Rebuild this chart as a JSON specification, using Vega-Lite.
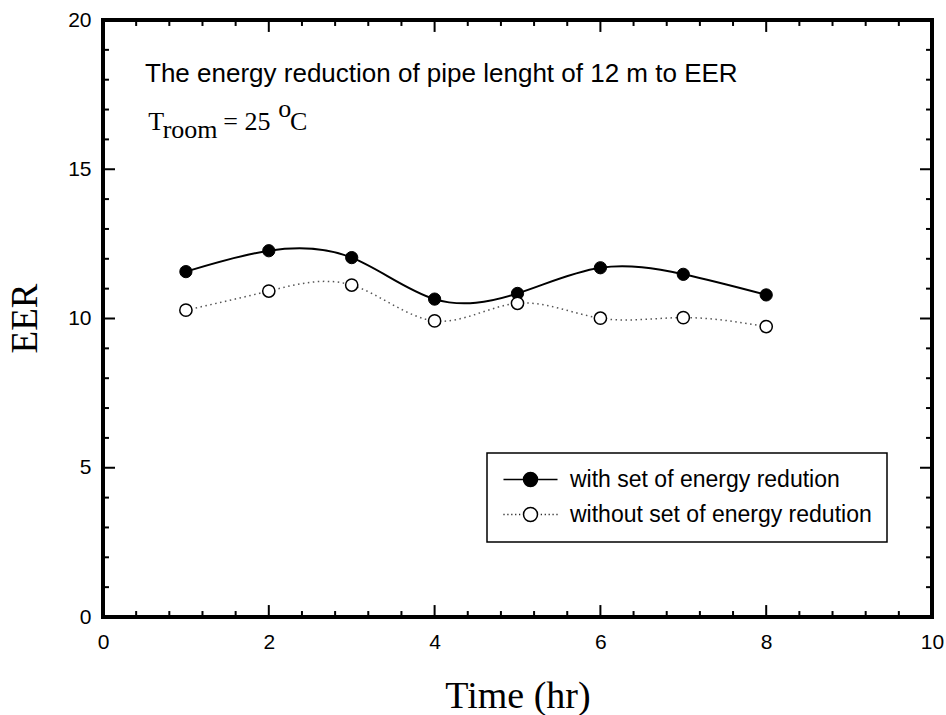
{
  "$schema": "https://vega.github.io/schema/vega-lite/v6.json",
  "width": 829,
  "height": 597,
  "autosize": {"type": "none"},
  "padding": {"left": 103, "top": 20, "right": 14, "bottom": 98},
  "background": "white",
  "config": {
    "view": {"stroke": "black", "strokeWidth": 4},
    "axis": {
      "grid": false,
      "labelColor": "black",
      "titleColor": "black",
      "labelFont": "Liberation Sans",
      "labelFontSize": 21
    },
    "legend": {"strokeWidth": 1.5}
  },
  "datasets": {
    "eer": [
      {"time": 1, "eer": 11.57, "series": "with set of energy redution"},
      {"time": 2, "eer": 12.27, "series": "with set of energy redution"},
      {"time": 3, "eer": 12.04, "series": "with set of energy redution"},
      {"time": 4, "eer": 10.65, "series": "with set of energy redution"},
      {"time": 5, "eer": 10.84, "series": "with set of energy redution"},
      {"time": 6, "eer": 11.70, "series": "with set of energy redution"},
      {"time": 7, "eer": 11.48, "series": "with set of energy redution"},
      {"time": 8, "eer": 10.79, "series": "with set of energy redution"},
      {"time": 1, "eer": 10.28, "series": "without set of energy redution"},
      {"time": 2, "eer": 10.92, "series": "without set of energy redution"},
      {"time": 3, "eer": 11.12, "series": "without set of energy redution"},
      {"time": 4, "eer": 9.92, "series": "without set of energy redution"},
      {"time": 5, "eer": 10.51, "series": "without set of energy redution"},
      {"time": 6, "eer": 10.01, "series": "without set of energy redution"},
      {"time": 7, "eer": 10.03, "series": "without set of energy redution"},
      {"time": 8, "eer": 9.73, "series": "without set of energy redution"}
    ],
    "xticks": [
      {"v": 2, "kind": "major"}, {"v": 4, "kind": "major"}, {"v": 6, "kind": "major"}, {"v": 8, "kind": "major"},
      {"v": 0.4, "kind": "minor"}, {"v": 0.8, "kind": "minor"}, {"v": 1.2, "kind": "minor"}, {"v": 1.6, "kind": "minor"},
      {"v": 2.4, "kind": "minor"}, {"v": 2.8, "kind": "minor"}, {"v": 3.2, "kind": "minor"}, {"v": 3.6, "kind": "minor"},
      {"v": 4.4, "kind": "minor"}, {"v": 4.8, "kind": "minor"}, {"v": 5.2, "kind": "minor"}, {"v": 5.6, "kind": "minor"},
      {"v": 6.4, "kind": "minor"}, {"v": 6.8, "kind": "minor"}, {"v": 7.2, "kind": "minor"}, {"v": 7.6, "kind": "minor"},
      {"v": 8.4, "kind": "minor"}, {"v": 8.8, "kind": "minor"}, {"v": 9.2, "kind": "minor"}, {"v": 9.6, "kind": "minor"}
    ],
    "yticks": [
      {"v": 5, "kind": "major"}, {"v": 10, "kind": "major"}, {"v": 15, "kind": "major"},
      {"v": 1, "kind": "minor"}, {"v": 2, "kind": "minor"}, {"v": 3, "kind": "minor"}, {"v": 4, "kind": "minor"},
      {"v": 6, "kind": "minor"}, {"v": 7, "kind": "minor"}, {"v": 8, "kind": "minor"}, {"v": 9, "kind": "minor"},
      {"v": 11, "kind": "minor"}, {"v": 12, "kind": "minor"}, {"v": 13, "kind": "minor"}, {"v": 14, "kind": "minor"},
      {"v": 16, "kind": "minor"}, {"v": 17, "kind": "minor"}, {"v": 18, "kind": "minor"}, {"v": 19, "kind": "minor"}
    ],
    "sans": [
      {"label": "The energy reduction of pipe lenght of 12 m to EER", "x": 0.507, "y": 17.93}
    ],
    "serif": [
      {"label": "T", "x": 0.546, "y": 16.31},
      {"label": "room", "x": 0.72, "y": 16.05},
      {"label": "= 25", "x": 1.451, "y": 16.31},
      {"label": "o", "x": 2.115, "y": 16.76},
      {"label": "C", "x": 2.256, "y": 16.31}
    ]
  },
  "layer": [
    {
      "data": {"name": "eer"},
      "transform": [{"filter": "datum.series === 'with set of energy redution'"}],
      "mark": {"type": "line", "interpolate": "natural", "color": "black", "strokeWidth": 2},
      "encoding": {
        "x": {"field": "time", "type": "quantitative", "scale": {"domain": [0, 10], "nice": false, "zero": false},
          "axis": {"orient": "bottom", "values": [0, 2, 4, 6, 8, 10], "ticks": false, "tickSize": 0, "domain": false,
            "labelPadding": 14, "format": "d", "labelFlush": false, "labelOverlap": false,
            "title": "Time (hr)", "titleFont": "Liberation Serif", "titleFontSize": 38, "titleFontWeight": "normal",
            "titleX": 414.5, "titleY": 90, "titleAlign": "center", "titleBaseline": "alphabetic"}},
        "y": {"field": "eer", "type": "quantitative", "scale": {"domain": [0, 20], "nice": false, "zero": false},
          "axis": {"orient": "left", "values": [0, 5, 10, 15, 20], "ticks": false, "tickSize": 0, "domain": false,
            "labelPadding": 12, "format": "d", "labelFlush": false, "labelOverlap": false,
            "title": "EER", "titleFont": "Liberation Serif", "titleFontSize": 37, "titleFontWeight": "normal",
            "titleAngle": -90, "titleX": -78, "titleY": 298, "titleAlign": "center", "titleBaseline": "middle"}}
      }
    },
    {
      "data": {"name": "eer"},
      "transform": [{"filter": "datum.series === 'without set of energy redution'"}],
      "mark": {"type": "line", "interpolate": "natural", "color": "#555555", "strokeWidth": 1.5, "strokeDash": [1.5, 3.5]},
      "encoding": {
        "x": {"field": "time", "type": "quantitative", "scale": {"domain": [0, 10], "nice": false, "zero": false}, "axis": null},
        "y": {"field": "eer", "type": "quantitative", "scale": {"domain": [0, 20], "nice": false, "zero": false}, "axis": null}
      }
    },
    {
      "data": {"name": "xticks"},
      "transform": [{"filter": "datum.kind === 'major'"}],
      "mark": {"type": "rule", "color": "black", "strokeWidth": 2},
      "encoding": {
        "x": {"field": "v", "type": "quantitative", "scale": {"domain": [0, 10], "nice": false, "zero": false}, "axis": null},
        "y": {"datum": 0, "type": "quantitative", "scale": {"domain": [0, 20], "nice": false, "zero": false}, "axis": null},
        "y2": {"datum": 0.4}
      }
    },
    {
      "data": {"name": "xticks"},
      "transform": [{"filter": "datum.kind === 'minor'"}],
      "mark": {"type": "rule", "color": "black", "strokeWidth": 2},
      "encoding": {
        "x": {"field": "v", "type": "quantitative", "scale": {"domain": [0, 10], "nice": false, "zero": false}, "axis": null},
        "y": {"datum": 0, "type": "quantitative", "scale": {"domain": [0, 20], "nice": false, "zero": false}, "axis": null},
        "y2": {"datum": 0.2}
      }
    },
    {
      "data": {"name": "xticks"},
      "transform": [{"filter": "datum.kind === 'major'"}],
      "mark": {"type": "rule", "color": "black", "strokeWidth": 2},
      "encoding": {
        "x": {"field": "v", "type": "quantitative", "scale": {"domain": [0, 10], "nice": false, "zero": false}, "axis": null},
        "y": {"datum": 20, "type": "quantitative", "scale": {"domain": [0, 20], "nice": false, "zero": false}, "axis": null},
        "y2": {"datum": 19.6}
      }
    },
    {
      "data": {"name": "xticks"},
      "transform": [{"filter": "datum.kind === 'minor'"}],
      "mark": {"type": "rule", "color": "black", "strokeWidth": 2},
      "encoding": {
        "x": {"field": "v", "type": "quantitative", "scale": {"domain": [0, 10], "nice": false, "zero": false}, "axis": null},
        "y": {"datum": 20, "type": "quantitative", "scale": {"domain": [0, 20], "nice": false, "zero": false}, "axis": null},
        "y2": {"datum": 19.8}
      }
    },
    {
      "data": {"name": "yticks"},
      "transform": [{"filter": "datum.kind === 'major'"}],
      "mark": {"type": "rule", "color": "black", "strokeWidth": 2},
      "encoding": {
        "x": {"datum": 0, "type": "quantitative", "scale": {"domain": [0, 10], "nice": false, "zero": false}, "axis": null},
        "x2": {"datum": 0.145},
        "y": {"field": "v", "type": "quantitative", "scale": {"domain": [0, 20], "nice": false, "zero": false}, "axis": null}
      }
    },
    {
      "data": {"name": "yticks"},
      "transform": [{"filter": "datum.kind === 'minor'"}],
      "mark": {"type": "rule", "color": "black", "strokeWidth": 2},
      "encoding": {
        "x": {"datum": 0, "type": "quantitative", "scale": {"domain": [0, 10], "nice": false, "zero": false}, "axis": null},
        "x2": {"datum": 0.072},
        "y": {"field": "v", "type": "quantitative", "scale": {"domain": [0, 20], "nice": false, "zero": false}, "axis": null}
      }
    },
    {
      "data": {"name": "yticks"},
      "transform": [{"filter": "datum.kind === 'major'"}],
      "mark": {"type": "rule", "color": "black", "strokeWidth": 2},
      "encoding": {
        "x": {"datum": 10, "type": "quantitative", "scale": {"domain": [0, 10], "nice": false, "zero": false}, "axis": null},
        "x2": {"datum": 9.855},
        "y": {"field": "v", "type": "quantitative", "scale": {"domain": [0, 20], "nice": false, "zero": false}, "axis": null}
      }
    },
    {
      "data": {"name": "yticks"},
      "transform": [{"filter": "datum.kind === 'minor'"}],
      "mark": {"type": "rule", "color": "black", "strokeWidth": 2},
      "encoding": {
        "x": {"datum": 10, "type": "quantitative", "scale": {"domain": [0, 10], "nice": false, "zero": false}, "axis": null},
        "x2": {"datum": 9.928},
        "y": {"field": "v", "type": "quantitative", "scale": {"domain": [0, 20], "nice": false, "zero": false}, "axis": null}
      }
    },
    {
      "data": {"name": "eer"},
      "transform": [{"filter": "datum.series === 'with set of energy redution'"}],
      "mark": {"type": "point", "shape": "circle", "filled": true, "fill": "black", "stroke": "black", "strokeWidth": 1, "size": 150, "opacity": 1},
      "encoding": {
        "x": {"field": "time", "type": "quantitative", "scale": {"domain": [0, 10], "nice": false, "zero": false}, "axis": null},
        "y": {"field": "eer", "type": "quantitative", "scale": {"domain": [0, 20], "nice": false, "zero": false}, "axis": null}
      }
    },
    {
      "data": {"name": "eer"},
      "transform": [{"filter": "datum.series === 'without set of energy redution'"}],
      "mark": {"type": "point", "shape": "circle", "filled": true, "fill": "white", "stroke": "black", "strokeWidth": 1.5, "size": 150, "opacity": 1},
      "encoding": {
        "x": {"field": "time", "type": "quantitative", "scale": {"domain": [0, 10], "nice": false, "zero": false}, "axis": null},
        "y": {"field": "eer", "type": "quantitative", "scale": {"domain": [0, 20], "nice": false, "zero": false}, "axis": null}
      }
    },
    {
      "data": {"name": "eer"},
      "mark": {"type": "point", "opacity": 0, "stroke": "black", "strokeWidth": 1.5},
      "encoding": {
        "x": {"field": "time", "type": "quantitative", "scale": {"domain": [0, 10], "nice": false, "zero": false}, "axis": null},
        "y": {"field": "eer", "type": "quantitative", "scale": {"domain": [0, 20], "nice": false, "zero": false}, "axis": null},
        "shape": {"field": "series", "type": "nominal",
          "scale": {"domain": ["with set of energy redution", "without set of energy redution"],
            "range": ["M-3.86,0H-1M1,0H3.86M-1,0A1,1 0 1,0 1,0A1,1 0 1,0 -1,0Z",
              "M-3.86,0h0.15M-3.3,0h0.15M-2.74,0h0.15M-2.18,0h0.15M-1.62,0h0.15M1.47,0h0.15M2.03,0h0.15M2.59,0h0.15M3.15,0h0.15M3.71,0h0.15M-1,0A1,1 0 1,0 1,0A1,1 0 1,0 -1,0Z"]},
          "legend": {"orient": "none", "legendX": 384, "legendY": 433, "title": null, "labelFont": "Liberation Sans", "labelFontSize": 23,
            "labelColor": "black", "padding": 15, "rowPadding": 11, "strokeColor": "black", "symbolSize": 196, "symbolOffset": 17,
            "labelOffset": 28, "labelLimit": 600, "symbolOpacity": 1, "symbolStrokeColor": "black", "symbolStrokeWidth": 1.5,
            "encode": {"symbols": {"update": {"stroke": {"value": "black"}, "strokeWidth": {"value": 1.5}, "opacity": {"value": 1}, "strokeOpacity": {"value": 1}, "fillOpacity": {"value": 1}}}}}},
        "fill": {"field": "series", "type": "nominal",
          "scale": {"domain": ["with set of energy redution", "without set of energy redution"], "range": ["black", "white"]},
          "legend": {"orient": "none", "legendX": 384, "legendY": 433, "title": null, "labelFont": "Liberation Sans", "labelFontSize": 23,
            "labelColor": "black", "padding": 15, "rowPadding": 11, "strokeColor": "black", "symbolSize": 196, "symbolOffset": 17,
            "labelOffset": 28, "labelLimit": 600, "symbolOpacity": 1, "symbolStrokeColor": "black", "symbolStrokeWidth": 1.5,
            "encode": {"symbols": {"update": {"stroke": {"value": "black"}, "strokeWidth": {"value": 1.5}, "opacity": {"value": 1}, "strokeOpacity": {"value": 1}, "fillOpacity": {"value": 1}}}}}}
      }
    },
    {
      "data": {"name": "sans"},
      "mark": {"type": "text", "font": "Liberation Sans", "fontSize": 26, "align": "left", "baseline": "alphabetic", "color": "black"},
      "encoding": {
        "x": {"field": "x", "type": "quantitative", "scale": {"domain": [0, 10], "nice": false, "zero": false}, "axis": null},
        "y": {"field": "y", "type": "quantitative", "scale": {"domain": [0, 20], "nice": false, "zero": false}, "axis": null},
        "text": {"field": "label"}
      }
    },
    {
      "data": {"name": "serif"},
      "mark": {"type": "text", "font": "Liberation Serif", "fontSize": 26, "align": "left", "baseline": "alphabetic", "color": "black"},
      "encoding": {
        "x": {"field": "x", "type": "quantitative", "scale": {"domain": [0, 10], "nice": false, "zero": false}, "axis": null},
        "y": {"field": "y", "type": "quantitative", "scale": {"domain": [0, 20], "nice": false, "zero": false}, "axis": null},
        "text": {"field": "label"}
      }
    }
  ],
  "resolve": {
    "scale": {"x": "independent", "y": "independent"},
    "axis": {"x": "independent", "y": "independent"}
  }
}
